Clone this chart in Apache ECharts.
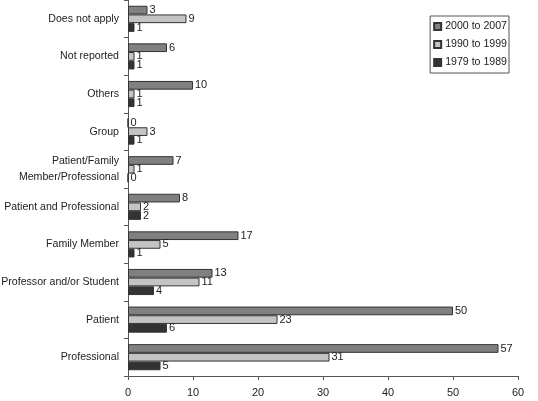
<!DOCTYPE html>
<html>
<head>
<meta charset="utf-8">
<script src="https://cdn.jsdelivr.net/npm/echarts@6/dist/echarts.min.js"></script>
<style>
  html, body { margin: 0; padding: 0; background: #fff; }
  #chart { width: 538px; height: 401px; }
</style>
</head>
<body>
<div id="chart"></div>
<script>
  // categories, bottom to top
  const categories = ['Professional', 'Patient', 'Professor and/or Student', 'Family Member',
    'Patient and Professional', 'Patient/Family\nMember/Professional', 'Group', 'Others',
    'Not reported', 'Does not apply']
  const seriesNames = ['2000 to 2007', '1990 to 1999', '1979 to 1989']
  const data2000 = [57, 50, 13, 17, 8, 7, 0, 10, 6, 3]
  const data1990 = [31, 23, 11, 5, 2, 1, 3, 1, 1, 9]
  const data1979 = [5, 6, 4, 1, 2, 0, 1, 1, 1, 1]
  const xTicks = [0, 10, 20, 30, 40, 50, 60]

  const colors = ['#808080', '#c4c4c4', '#333333']
  const font = 'Liberation Sans, Arial, sans-serif'

  const myChart = echarts.init(document.getElementById('chart'))

  function makeSeries(name, data, color) {
    return {
      name: name,
      type: 'bar',
      data: data,
      barWidth: 8.7,
      barGap: '0%',
      itemStyle: {
        color: color,
        borderColor: '#333',
        borderWidth: 1
      },
      label: {
        show: true,
        position: 'right',
        distance: 2,
        color: '#222',
        fontSize: 11,
        fontFamily: font
      }
    }
  }

  const option = {
    animation: false,
    grid: { left: 128, right: 20, top: 0, bottom: 25, containLabel: false, outerBoundsMode: 'none' },
    legend: {
      orient: 'vertical',
      right: 29,
      top: 16,
      data: seriesNames,
      icon: 'rect',
      itemWidth: 7,
      itemHeight: 7,
      itemGap: 7,
      padding: [5, 2, 5, 3],
      borderColor: '#555',
      borderWidth: 1,
      textStyle: { fontSize: 10.6, fontFamily: font, color: '#222', padding: [0, 0, 0, -1] }
    },
    xAxis: {
      type: 'value',
      min: 0,
      max: 60,
      interval: 10,
      splitLine: { show: false },
      axisLine: { show: true, lineStyle: { color: '#555' } },
      axisTick: { show: true, length: 4, lineStyle: { color: '#555' } },
      axisLabel: {
        color: '#222', fontSize: 11, fontFamily: font, margin: 11,
        formatter: function (v) { return xTicks.indexOf(v) >= 0 ? String(v) : '' }
      }
    },
    yAxis: {
      type: 'category',
      data: categories,
      axisLine: { show: true, lineStyle: { color: '#555' } },
      axisTick: { show: true, length: 4, lineStyle: { color: '#555' } },
      axisLabel: { color: '#222', fontSize: 10.6, fontFamily: font, margin: 9, lineHeight: 16 }
    },
    series: [
      makeSeries(seriesNames[0], data2000, colors[0]),
      makeSeries(seriesNames[1], data1990, colors[1]),
      makeSeries(seriesNames[2], data1979, colors[2])
    ]
  }
  myChart.setOption(option)
</script>
</body>
</html>
